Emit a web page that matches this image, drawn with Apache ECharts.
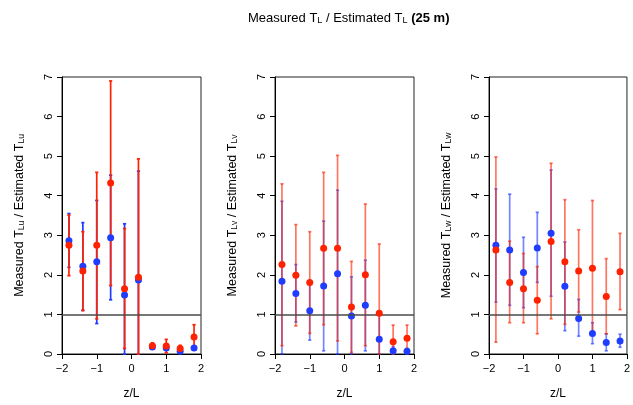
<!DOCTYPE html>
<html><head><meta charset="utf-8">
<script src="https://cdn.jsdelivr.net/npm/echarts@6/dist/echarts.min.js"></script>
<style>html,body{margin:0;padding:0;background:#fff}#c{width:633px;height:405px}</style>
</head><body><div id="c"></div>
<script>
const zL = [-1.8,-1.4,-1.0,-0.6,-0.2,0.2,0.6,1.0,1.4,1.8];
const xTicks = [-2,-1,0,1,2];
const yTicks = [0,1,2,3,4,5,6,7];
const panelNames = ['Lu','Lv','Lw'];

const uBlue   = [2.86,2.22,2.33,2.94,1.49,1.87,0.18,0.15,0.07,0.15];
const uBlueLo = [2.19,1.10,0.77,1.37,0.00,0.00,0.13,0.10,0.03,0.10];
const uBlueHi = [3.55,3.32,3.88,4.52,3.29,4.62,0.23,0.20,0.11,0.20];
const uRed    = [2.75,2.10,2.75,4.32,1.65,1.94,0.21,0.20,0.14,0.43];
const uRedLo  = [1.98,1.10,0.89,1.73,0.14,0.00,0.13,0.03,0.06,0.12];
const uRedHi  = [3.51,3.09,4.59,6.90,3.17,4.93,0.28,0.37,0.22,0.74];

const vBlue   = [1.84,1.53,1.09,1.72,2.03,0.96,1.23,0.37,0.08,0.07];
const vBlueLo = [0.00,0.81,0.35,0.08,0.00,0.00,0.08,0.00,0.00,0.00];
const vBlueHi = [3.86,2.26,1.82,3.36,4.14,1.95,2.37,1.02,0.19,0.14];
const vRed    = [2.26,1.99,1.81,2.67,2.67,1.19,2.00,1.03,0.31,0.40];
const vRedLo  = [0.21,0.71,0.52,0.74,0.33,0.04,0.21,0.00,0.00,0.08];
const vRedHi  = [4.30,3.27,3.09,4.59,5.02,2.34,3.79,2.78,0.73,0.73];

const wBlue   = [2.75,2.63,2.06,2.68,3.05,1.71,0.90,0.52,0.29,0.33];
const wBlueLo = [1.31,1.23,1.17,1.81,1.46,0.59,0.45,0.26,0.08,0.17];
const wBlueHi = [4.17,4.04,2.95,3.58,4.65,2.83,1.38,0.79,0.51,0.50];
const wRed    = [2.63,1.81,1.65,1.36,2.84,2.33,2.10,2.17,1.45,2.08];
const wRedLo  = [0.30,0.79,0.79,0.51,0.89,0.75,1.06,0.49,0.51,1.12];
const wRedHi  = [4.98,2.85,2.54,2.21,4.82,3.90,3.14,3.88,2.41,3.05];

const panels = [
  {bv:uBlue,bl:uBlueLo,bh:uBlueHi,rv:uRed,rl:uRedLo,rh:uRedHi},
  {bv:vBlue,bl:vBlueLo,bh:vBlueHi,rv:vRed,rl:vRedLo,rh:vRedHi},
  {bv:wBlue,bl:wBlueLo,bh:wBlueHi,rv:wRed,rl:wRedLo,rh:wRedHi}
];

const FONT = '"Liberation Sans", Arial, Helvetica, sans-serif';
const BLUE = '#1f3cff';
const RED = '#ff2200';
const barAlpha = [1, 0.62, 0.62];
const lefts = [62, 275, 489];

const chart = echarts.init(document.getElementById('c'), null, {renderer:'canvas'});

function errSeries(i, xs, lo, hi, color, opacity){
  return {
    type:'custom', xAxisIndex:i, yAxisIndex:i, silent:true, z:3,
    data: xs.map((x,k)=>[x, lo[k], hi[k]]),
    renderItem: function(params, api){
      const p1 = api.coord([api.value(0), api.value(1)]);
      const p2 = api.coord([api.value(0), api.value(2)]);
      const st = {stroke: color, lineWidth: 1.7, opacity: opacity};
      const c = 1.6;
      return {type:'group', children:[
        {type:'line', shape:{x1:p1[0],y1:p1[1],x2:p2[0],y2:p2[1]}, style:st},
        {type:'line', shape:{x1:p1[0]-c,y1:p1[1],x2:p1[0]+c,y2:p1[1]}, style:st},
        {type:'line', shape:{x1:p2[0]-c,y1:p2[1],x2:p2[0]+c,y2:p2[1]}, style:st}
      ]};
    }
  };
}

const grids = [], xAxes = [], yAxes = [], series = [];
panels.forEach((p,i)=>{
  grids.push({left:lefts[i], top:77, width:139, height:279, show:true, borderColor:'#222', borderWidth:1, backgroundColor:'transparent'});
  xAxes.push({
    gridIndex:i, type:'value', min:xTicks[0], max:xTicks[xTicks.length-1], interval:1,
    name:'z/L', nameLocation:'middle', nameGap:34,
    nameTextStyle:{fontFamily:FONT, fontSize:12, color:'#000'},
    axisLine:{show:true, onZero:false, lineStyle:{color:'#000', width:1}},
    axisTick:{show:true, length:5, lineStyle:{color:'#000'}},
    axisLabel:{fontFamily:FONT, fontSize:11, color:'#000', margin:9,
      formatter:v=>String(v).replace('-','\u2212')},
    splitLine:{show:false}
  });
  const nm = panelNames[i];
  yAxes.push({
    gridIndex:i, type:'value', min:yTicks[0], max:yTicks[yTicks.length-1], interval:1,
    name:'{n|Measured T}{s|'+nm+'}{n| / Estimated T}{s|'+nm+'}',
    nameLocation:'middle', nameGap:36,
    nameTextStyle:{fontFamily:FONT, fontSize:12.5, color:'#000',
      rich:{
        n:{fontFamily:FONT, fontSize:12.5, color:'#000', lineHeight:16, verticalAlign:'bottom'},
        s:{fontFamily:FONT, fontSize:8.5, color:'#000', lineHeight:12, verticalAlign:'bottom'}
      }},
    axisLine:{show:true, onZero:false, lineStyle:{color:'#000', width:1}},
    axisTick:{show:true, length:5, lineStyle:{color:'#000'}},
    axisLabel:{fontFamily:FONT, fontSize:11, color:'#000', rotate:90, margin:8},
    splitLine:{show:false}
  });
  series.push(Object.assign(errSeries(i, zL, p.bl, p.bh, BLUE, barAlpha[i]), {
    markLine:{silent:true, symbol:'none', label:{show:false},
      lineStyle:{color:'#4a4a4a', width:1.6, type:'solid'}, data:[{yAxis:1}]}
  }));
  series.push(errSeries(i, zL, p.rl, p.rh, RED, barAlpha[i]));
  series.push({type:'scatter', xAxisIndex:i, yAxisIndex:i, silent:true, z:4,
    symbol:'circle', symbolSize:7, itemStyle:{color:BLUE, opacity:1},
    data: zL.map((x,k)=>[x, p.bv[k]])});
  series.push({type:'scatter', xAxisIndex:i, yAxisIndex:i, silent:true, z:5,
    symbol:'circle', symbolSize:7, itemStyle:{color:RED, opacity:1},
    data: zL.map((x,k)=>[x, p.rv[k]])});
});

chart.setOption({
  animation:false,
  backgroundColor:'#fff',
  title:{
    left:248, top:9, padding:0,
    text:'{n|Measured T}{s|L}{n| / Estimated T}{s|L}{b| (25 m)}',
    textStyle:{fontFamily:FONT, fontSize:13, fontWeight:'normal', color:'#000',
      rich:{
        n:{fontFamily:FONT, fontSize:13, color:'#000', lineHeight:16, verticalAlign:'bottom'},
        s:{fontFamily:FONT, fontSize:9, color:'#000', lineHeight:12, verticalAlign:'bottom'},
        b:{fontFamily:FONT, fontSize:13, fontWeight:'bold', color:'#000', lineHeight:16, verticalAlign:'bottom'}
      }}
  },
  grid:grids, xAxis:xAxes, yAxis:yAxes, series:series
});
</script></body></html>
